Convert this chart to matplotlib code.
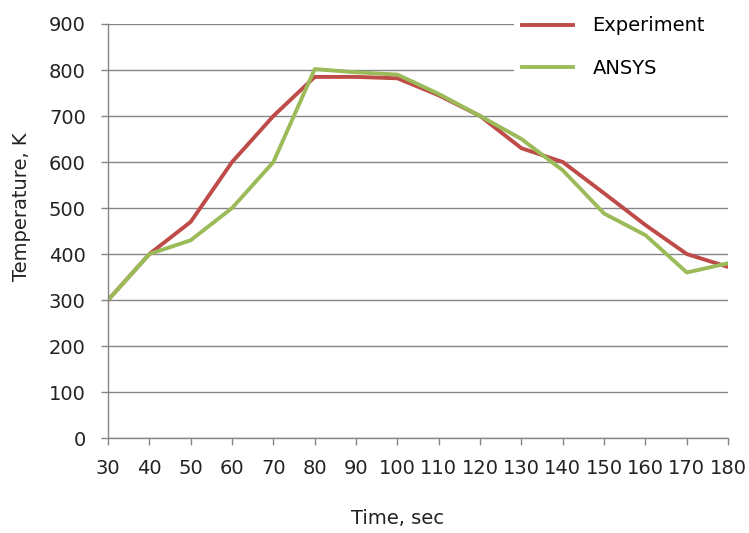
import numpy as np
import matplotlib
matplotlib.use('Agg')
import matplotlib.pyplot as plt

plt.rcParams['font.family'] = ['DejaVu Sans']

time_sec = [30, 40, 50, 60, 70, 80, 90, 100, 110, 120, 130, 140, 150, 160, 170, 180]
experiment = [300, 400, 470, 600, 700, 785, 785, 782, 745, 700, 630, 600, 532, 463, 400, 372]
ansys = [300, 400, 430, 500, 600, 802, 795, 790, 748, 700, 650, 582, 488, 441, 360, 380]

grey = '#868686'
txt = '#222222'
fs = 14

fig = plt.figure(figsize=(7.49, 5.33), dpi=100)
ax = fig.add_axes([0.1442, 0.178, 0.828, 0.777])

ax.plot(time_sec, experiment, color='#BE4B48', lw=2.8, label='Experiment', solid_joinstyle='round')
ax.plot(time_sec, ansys, color='#9BBB59', lw=2.8, label='ANSYS', solid_joinstyle='round')

ax.set_xlim(30, 180)
ax.set_ylim(0, 900)
ax.set_xticks(time_sec)
ax.set_yticks(np.arange(0, 901, 100))
ax.yaxis.grid(True, color=grey, lw=1)
ax.set_axisbelow(True)

for s in ['top', 'right']:
    ax.spines[s].set_visible(False)
for s in ['left', 'bottom']:
    ax.spines[s].set_color(grey)
    ax.spines[s].set_linewidth(1)
ax.tick_params(axis='both', colors=grey, labelcolor=txt, labelsize=fs,
               length=5, width=1, direction='out')
ax.tick_params(axis='x', pad=10)
ax.tick_params(axis='y', pad=11)

ax.set_xlabel('Time, sec', fontsize=fs, color=txt)
ax.set_ylabel('Temperature, K', fontsize=fs, color=txt)
ax.xaxis.set_label_coords(0.466, -0.1715)
ax.yaxis.set_label_coords(-0.124, 0.558)

leg = fig.legend(loc='upper left', bbox_to_anchor=(0.6736, 0.7, 0.4, 0.302),
                 mode='expand', fontsize=fs,
                 frameon=True, facecolor='white', edgecolor='none', framealpha=1,
                 fancybox=False, handlelength=2.63, handletextpad=1.0,
                 labelspacing=1.2, borderpad=0.4)
leg.set_zorder(5)

plt.savefig('out.png', dpi=100)
